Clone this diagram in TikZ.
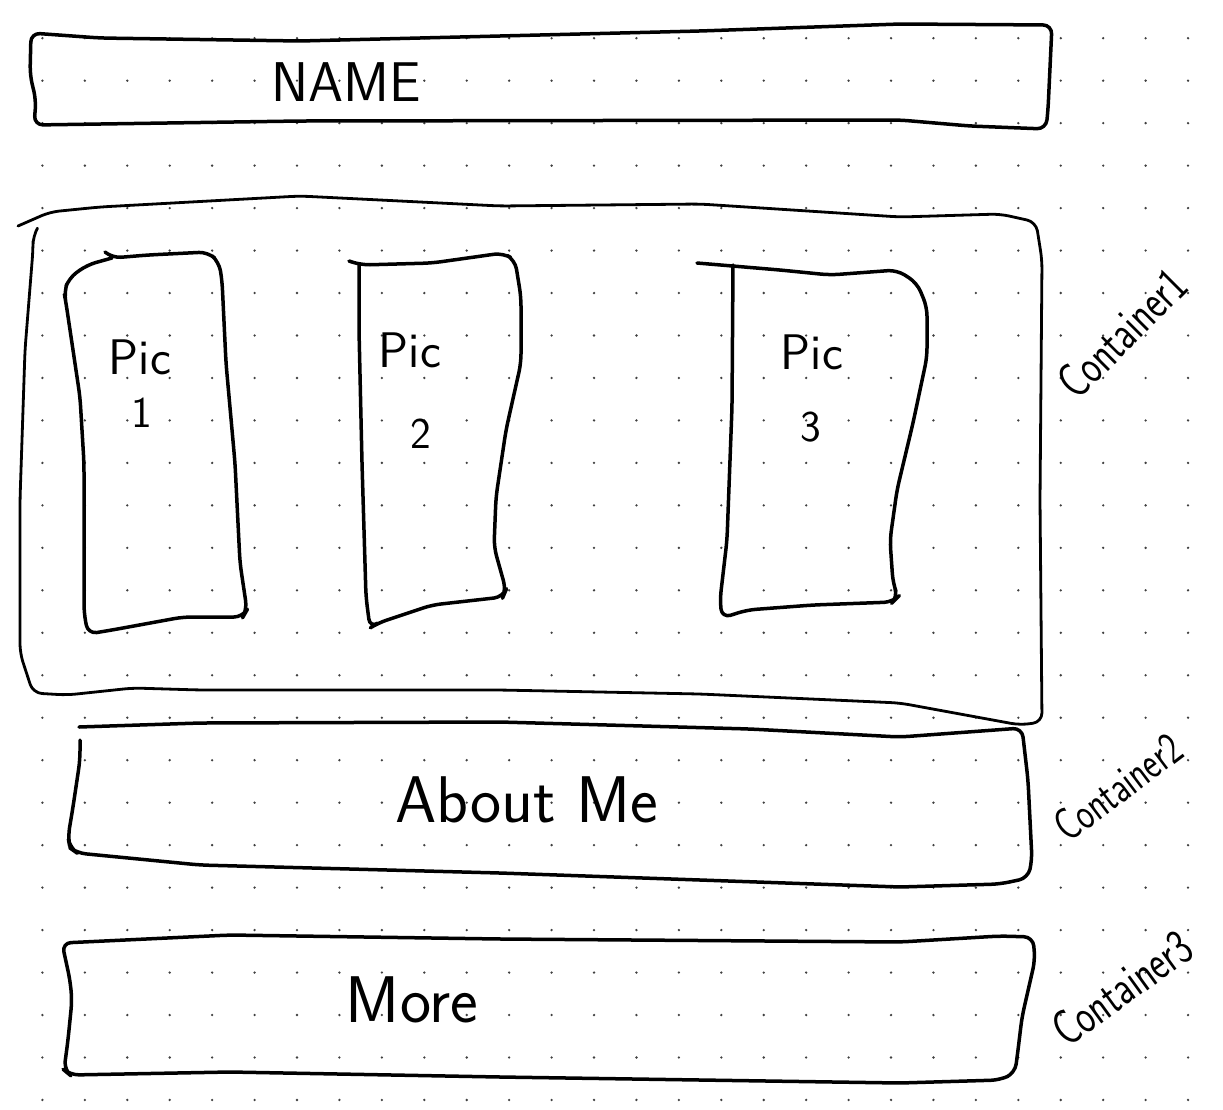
\documentclass[tikz,border=0pt]{standalone}
\usepackage{tikz}
\usetikzlibrary{positioning}
\tikzset{
  sketch/.style={line width=3.5pt, line join=round, line cap=round, rounded corners=9pt},
  thinsketch/.style={sketch, line width=2.8pt},
  griddot/.style={fill=black!75},
  bigtext/.style={font=\sffamily\fontsize{56}{64}\selectfont, inner sep=0pt},
  wordtext/.style={font=\sffamily\fontsize{66}{74}\selectfont, inner sep=0pt},
  pictext/.style={font=\sffamily\fontsize{50}{58}\selectfont, inner sep=0pt},
  numtext/.style={font=\sffamily\fontsize{44}{52}\selectfont, inner sep=0pt},
  sidetext/.style={font=\sffamily\fontsize{50}{58}\selectfont, inner sep=0pt}
}
\begin{document}
\begin{tikzpicture}[x=1pt, y=-1pt]
  \fill[white] (0,0) rectangle (1223,1109);
  \useasboundingbox (0,0) rectangle (1223,1109);

  % dotted paper
  \foreach \i in {1,...,28}
    \foreach \j in {0,...,25}
      \fill[griddot] ({42.43*\i},{38.2+42.47*\j}) circle (1.3);

  % header bar
  \draw[sketch] (31,33) -- (100,38) -- (300,41) -- (700,31) -- (900,24) -- (1052,25)
    -- (1048,110) -- (1046,129) -- (970,126) -- (900,120) -- (300,121) -- (34,125)
    -- (36,100) -- (30,75) -- cycle;
  \node[bigtext] (name) at (346,82) {NAME};

  % container 1 with the three pictures
  \draw[thinsketch] (18,226) -- (50,212) -- (100,207) -- (300,196) -- (500,206) -- (700,204)
    -- (900,217) -- (1000,214) -- (1036,222) -- (1042,260) -- (1040,500) -- (1042,722)
    -- (1020,725) -- (900,703) -- (700,694) -- (500,690) -- (200,690) -- (133,688)
    -- (67,695) -- (33,693) -- (20,653) -- (20,500) -- (25,350) -- (33,250) -- (33,236)
    -- (37,229);

  \draw[sketch] (105,252) -- (112,258) -- (148,255) -- (208,252) -- (219,262) -- (222,280)
    -- (226,363) -- (235,463) -- (240,563) -- (247,610) -- (243,617) -- (183,617)
    -- (112,630) -- (88,634) -- (84,613) -- (84,463) -- (80,397) -- (66,303) -- (64,292)
    -- (69,278) -- (87,265) -- (112,258);
  \node[pictext] (pic1) at (140,357) {Pic};
  \node[numtext] (num1) at (142,413) {1};

  \draw[sketch] (349,261) -- (361,265) -- (432,263) -- (503,253) -- (515,260) -- (521,297)
    -- (521,363) -- (506,430) -- (496,497) -- (494,547) -- (506,590) -- (503,597)
    -- (432,605) -- (378,623) -- (370,628) -- (366,597) -- (362,463) -- (359,330)
    -- (359,265);
  \node[pictext] (pic2) at (410,350) {Pic};
  \node[numtext] (num2) at (421,434) {2};

  \draw[sketch] (697,263) -- (780,270) -- (830,275) -- (897,270) -- (917,283) -- (927,307)
    -- (927,357) -- (913,423) -- (897,490) -- (890,540) -- (893,583) -- (898,597)
    -- (893,602) -- (813,605) -- (747,610) -- (722,618) -- (720,600) -- (727,540)
    -- (732,407) -- (733,265);
  \node[pictext] (pic3) at (812,352) {Pic};
  \node[numtext] (num3) at (811,427) {3};

  \node[sidetext, rotate=45, xscale=0.75] (cont1) at (1122,333) {Container1};

  % container 2
  \draw[sketch] (79,727) -- (200,723) -- (500,722) -- (750,729) -- (900,737) -- (1022,728)
    -- (1028,780) -- (1032,860) -- (1028,878) -- (1000,884) -- (900,887) -- (500,873)
    -- (200,865) -- (77,853) -- (70,848) -- (68,837) -- (73,807) -- (80,760) -- (80,740);
  \node[wordtext] (about) at (527,800) {About Me};
  \node[sidetext, rotate=37, xscale=0.75, font=\sffamily\fontsize{46}{54}\selectfont] (cont2) at (1118,787) {Container2};

  % container 3
  \draw[sketch] (62,943) -- (230,935) -- (500,939) -- (900,942) -- (1000,936) -- (1033,937)
    -- (1035,960) -- (1022,1017) -- (1018,1050) -- (1015,1073) -- (1000,1080) -- (900,1083)
    -- (500,1077) -- (230,1072) -- (70,1075) -- (64,1070) -- (68,1040) -- (72,1000)
    -- (70,980) -- cycle;
  \node[wordtext] (more) at (412,1000) {More};
  \node[sidetext, rotate=36, xscale=0.75] (cont3) at (1122,988) {Container3};
\end{tikzpicture}
\end{document}
